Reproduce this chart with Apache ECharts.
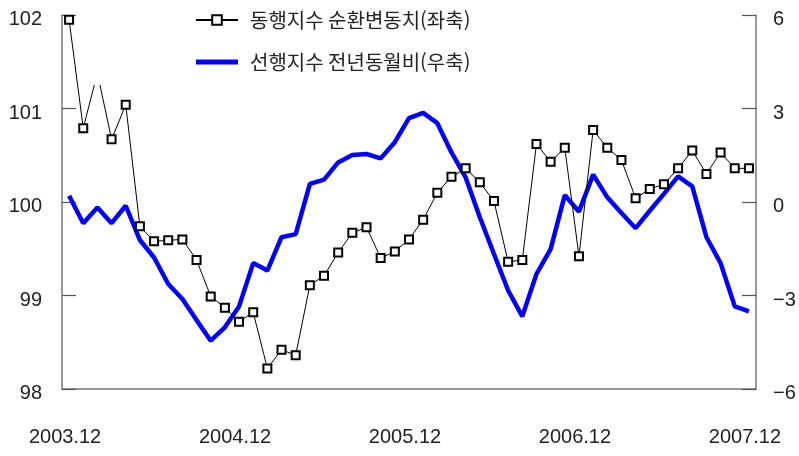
<!DOCTYPE html>
<html lang="ko" style="height: 100%">
<head>
    <meta http-equiv="Content-Type" content="text/html; charset=utf-8"/>
    <title>동행지수와 선행지수</title>
    <script type="text/javascript" src="https://cdn.jsdelivr.net/npm/echarts@6/dist/echarts.min.js"></script>
</head>
<body style="height: 100%; margin: 0; background: #fff">
<div id="container" style="width: 799px; height: 456px"></div>
<script type="text/javascript">
    // 월별 카테고리 (2003.12 ~ 2007.12)
    var months = [];
    for (var y = 2003; y <= 2007; y++) {
        for (var m = 1; m <= 12; m++) {
            if (y === 2003 && m < 12) continue;
            months.push(y + '.' + m);
        }
    }
    // 동행지수 순환변동치 (좌축)
    var coincident = [101.95, 100.79, 101.38, 100.67, 101.04, 99.74, 99.58, 99.59, 99.60, 99.38,
        98.99, 98.87, 98.72, 98.82, 98.22, 98.42, 98.36, 99.11, 99.21, 99.46,
        99.67, 99.73, 99.40, 99.47, 99.60, 99.81, 100.10, 100.27, 100.36, 100.21,
        100.01, 99.36, 99.38, 100.62, 100.43, 100.58, 99.42, 100.77, 100.58, 100.45,
        100.04, 100.14, 100.19, 100.36, 100.55, 100.30, 100.53, 100.36, 100.36];
    // 선행지수 전년동월비 (우축)
    var leading = [0.20, -0.68, -0.18, -0.68, -0.12, -1.22, -1.78, -2.63, -3.11, -3.79,
        -4.45, -4.02, -3.35, -1.96, -2.20, -1.13, -1.03, 0.58, 0.72, 1.27,
        1.51, 1.54, 1.40, 1.92, 2.69, 2.86, 2.53, 1.59, 0.79, -0.49,
        -1.67, -2.84, -3.67, -2.31, -1.51, 0.22, -0.31, 0.88, 0.15, -0.35,
        -0.84, -0.28, 0.26, 0.82, 0.50, -1.13, -1.96, -3.35, -3.51];

    var axisGrey = '#777';
    var labelFont = '"Liberation Sans", sans-serif';

    var myChart = echarts.init(document.getElementById('container'));
    var option = {
        animation: false,
        grid: {left: 62, right: 43, top: 15, bottom: 67},
        legend: {
            orient: 'vertical',
            left: 88,
            top: 0,
            padding: [9, 12, 12, 107],
            backgroundColor: '#fff',
            itemWidth: 42,
            itemHeight: 12,
            itemGap: 20,
            textStyle: {
                fontFamily: '"Noto Sans CJK KR", sans-serif',
                fontSize: 20,
                lineHeight: 22,
                color: '#222',
                padding: [0, 0, 0, 7]
            },
            data: [
                {name: '동행지수 순환변동치(좌축)'},
                {name: '선행지수 전년동월비(우축)', icon: 'path://M0,0L42,0L42,5L0,5Z'}
            ]
        },
        xAxis: {
            type: 'category',
            data: months,
            boundaryGap: true,
            axisLine: {onZero: false, lineStyle: {color: axisGrey, width: 1.5}},
            axisTick: {inside: true, length: 13, interval: 5, lineStyle: {color: '#555', width: 1.2}},
            axisLabel: {
                interval: 11,
                margin: 38,
                padding: [0, 8, 0, 0],
                fontFamily: labelFont,
                fontSize: 20,
                color: '#222'
            }
        },
        yAxis: [{
            type: 'value',
            min: 98,
            max: 102,
            interval: 1,
            splitLine: {show: false},
            axisLine: {show: true, lineStyle: {color: axisGrey, width: 1.5}},
            axisTick: {show: true, inside: true, length: 14, lineStyle: {color: '#555', width: 1.2}},
            axisLabel: {
                margin: 20,
                fontFamily: labelFont,
                fontSize: 20,
                color: '#222',
                formatter: function (v) {
                    return '{v|' + v + '}';
                },
                rich: {v: {fontFamily: labelFont, fontSize: 20, color: '#222', padding: [9, 0, 0, 0]}}
            }
        }, {
            type: 'value',
            min: -6,
            max: 6,
            interval: 3,
            splitLine: {show: false},
            axisLine: {show: true, lineStyle: {color: axisGrey, width: 1.5}},
            axisTick: {show: true, inside: true, length: 14, lineStyle: {color: '#555', width: 1.2}},
            axisLabel: {
                margin: 17,
                fontFamily: labelFont,
                fontSize: 20,
                color: '#222',
                formatter: function (v) {
                    return '{v|' + String(v).replace('-', '\u2212') + '}';
                },
                rich: {v: {fontFamily: labelFont, fontSize: 20, color: '#222', padding: [9, 0, 0, 0]}}
            }
        }],
        series: [{
            name: '동행지수 순환변동치(좌축)',
            type: 'line',
            yAxisIndex: 0,
            data: coincident,
            symbol: 'emptyRect',
            symbolSize: 8,
            showAllSymbol: true,
            lineStyle: {color: '#000', width: 1},
            itemStyle: {color: '#000', borderWidth: 1.2},
            z: 3
        }, {
            name: '선행지수 전년동월비(우축)',
            type: 'line',
            yAxisIndex: 1,
            data: leading,
            symbol: 'none',
            lineStyle: {color: '#0000ff', width: 4.5},
            itemStyle: {color: '#0000ff'},
            z: 2
        }]
    };
    myChart.setOption(option);
</script>
</body>
</html>
